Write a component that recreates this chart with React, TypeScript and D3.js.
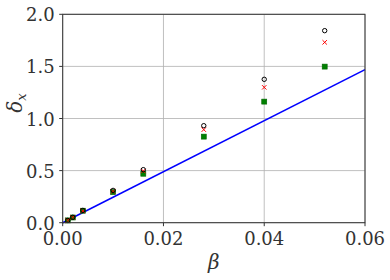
import React from "react";
import * as d3 from "d3";

const width = 390;
const height = 280;
const margin = { top: 14.3, right: 25, bottom: 57.3, left: 62.7 };

// beta positions of the measured points
const betas = [0.001, 0.002, 0.004, 0.01, 0.016, 0.028, 0.04, 0.052];
const circleVals = [0.022, 0.052, 0.118, 0.31, 0.509, 0.931, 1.376, 1.843];
const crossVals = [0.022, 0.051, 0.112, 0.3, 0.496, 0.893, 1.299, 1.731];
const squareVals = [0.022, 0.05, 0.115, 0.294, 0.47, 0.826, 1.162, 1.498];

// straight reference line
const lineBetas = [0, 0.06];
const lineVals = [0, 1.469];

const xTicks = [0, 0.02, 0.04, 0.06];
const yTicks = [0, 0.5, 1.0, 1.5, 2.0];

const font = "DejaVu Serif";

export default function App() {
  const x = d3
    .scaleLinear()
    .domain([0, 0.06])
    .range([margin.left, width - margin.right]);
  const y = d3
    .scaleLinear()
    .domain([0, 2])
    .range([height - margin.bottom, margin.top]);

  const line = d3
    .line<number>()
    .x((d, i) => x(lineBetas[i]))
    .y((d) => y(d));

  const x0 = x(0), x1 = x(0.06), y0 = y(0), y1 = y(2);

  return (
    <svg
      width={width}
      height={height}
      style={{ position: "absolute", left: 0, top: 0, background: "#fff" }}
    >
      {/* grid */}
      {xTicks.map((t) => (
        <line key={"gx" + t} x1={x(t)} x2={x(t)} y1={y0} y2={y1} stroke="#b0b0b0" strokeWidth={0.8} />
      ))}
      {yTicks.map((t) => (
        <line key={"gy" + t} x1={x0} x2={x1} y1={y(t)} y2={y(t)} stroke="#b0b0b0" strokeWidth={0.8} />
      ))}

      <path d={line(lineVals) || ""} fill="none" stroke="#0000ff" strokeWidth={1.6} />

      {betas.map((b, i) => (
        <rect
          key={"s" + i}
          x={x(b) - 2.5}
          y={y(squareVals[i]) - 2.5}
          width={5}
          height={5}
          fill="#008000"
          stroke="#006400"
          strokeWidth={0.6}
        />
      ))}
      {betas.map((b, i) => {
        const cx = x(b), cy = y(crossVals[i]), r = 2.2;
        return (
          <path
            key={"c" + i}
            d={`M${cx - r},${cy - r}L${cx + r},${cy + r}M${cx - r},${cy + r}L${cx + r},${cy - r}`}
            stroke="#ff0000"
            strokeWidth={1}
          />
        );
      })}
      {betas.map((b, i) => (
        <circle key={"o" + i} cx={x(b)} cy={y(circleVals[i])} r={2.2} fill="none" stroke="#000" strokeWidth={1} />
      ))}

      {/* frame */}
      <rect x={x0} y={y1} width={x1 - x0} height={y0 - y1} fill="none" stroke="#333" strokeWidth={1} />

      {xTicks.map((t) => (
        <g key={"tx" + t}>
          <line x1={x(t)} x2={x(t)} y1={y0} y2={y0 + 3.5} stroke="#333" />
          <text x={x(t)} y={y0 + 22} textAnchor="middle" fontFamily={font} fontSize={18} fill="#333">
            {t.toFixed(2)}
          </text>
        </g>
      ))}
      {yTicks.map((t) => (
        <g key={"ty" + t}>
          <line x1={x0 - 3.5} x2={x0} y1={y(t)} y2={y(t)} stroke="#333" />
          <text x={x0 - 8} y={y(t) + 7} textAnchor="end" fontFamily={font} fontSize={18} fill="#333">
            {t.toFixed(1)}
          </text>
        </g>
      ))}

      <text x={(x0 + x1) / 2} y={269} textAnchor="middle" fontFamily={font} fontSize={20} fontStyle="italic" fill="#333">
        β
      </text>
      <text
        transform={`translate(22, 103) rotate(-90)`}
        textAnchor="middle"
        fontFamily={font}
        fontSize={20}
        fontStyle="italic"
        fill="#333"
      >
        δ
        <tspan fontSize={13} dy={4}>x</tspan>
      </text>
    </svg>
  );
}
